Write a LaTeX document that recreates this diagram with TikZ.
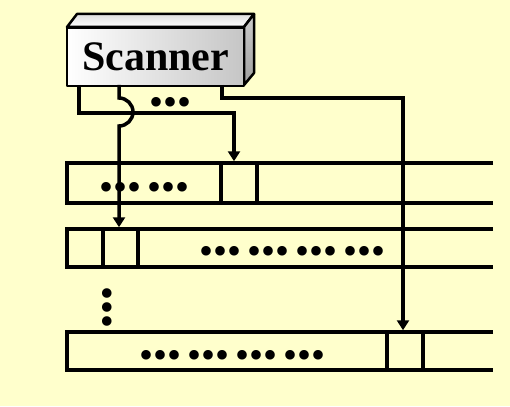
\documentclass[tikz,border=0pt]{standalone}
\usepackage{fontspec}
\setmainfont{Liberation Serif}
\usetikzlibrary{arrows.meta}
\definecolor{bg}{HTML}{FFFFCC}
\newcommand{\trip}{•••}
\newcommand{\gp}{\hspace{6pt}}
\begin{document}
\begin{tikzpicture}[x=1pt,y=-1pt,
  wire/.style={line width=3.5pt},
  conn/.style={line width=3.5pt,-{Triangle[length=10pt,width=12pt]}},
  dotsty/.style={font=\fontsize{40}{13}\selectfont, inner sep=0pt, align=center},
  cellbox/.style={draw, line width=3.5pt, inner sep=0pt},
  face/.style={draw, line width=2.5pt, line join=round}]
\fill[bg] (0,0) rectangle (510,406);
\useasboundingbox (0,0) rectangle (510,406);
% scanner
\draw[face, top color=gray!25, bottom color=white] (67,27) -- (77,14) -- (254,14) -- (244,27) -- cycle;
\draw[face, top color=gray!40, bottom color=gray!75] (244,27) -- (254,14) -- (254,73) -- (244,85) -- cycle;
\node[face, left color=white, right color=gray!45, minimum width=177pt, minimum height=58pt, inner sep=0pt,
  font=\bfseries\fontsize{42}{42}\selectfont] (scanner) at (155.5,57) {Scanner};
% rows
\draw[wire] (493,163) -- (67,163) -- (67,203) -- (493,203);
\draw[wire] (493,229) -- (67,229) -- (67,267) -- (493,267);
\draw[wire] (493,332) -- (67,332) -- (67,370) -- (493,370);
\node[cellbox, minimum width=36pt, minimum height=40pt] (cell1) at (239,183) {};
\node[cellbox, minimum width=35pt, minimum height=38pt] (cell2) at (120.5,248) {};
\node[cellbox, minimum width=36pt, minimum height=38pt] (cell3) at (405,351) {};
% dots
\node[dotsty] (d0) at (170.5,106) {\trip};
\node[dotsty] (d1) at (144.5,191) {\trip\gp\trip};
\node[dotsty] (d2) at (292.5,255) {\trip\gp\trip\gp\trip\gp\trip};
\node[dotsty] (d3) at (233,359) {\trip\gp\trip\gp\trip\gp\trip};
\node[dotsty, rotate=90] (dv) at (111,307) {\trip};
% connectors
\coordinate (s1) at (79,85);
\coordinate (j1) at (234,113);
\coordinate (s2) at (119,85);
\coordinate (s3) at (222,85);
\coordinate (j3) at (403,98);
\draw[conn] (s1) |- (j1) -- (j1 |- cell1.north);
\draw[conn] (s2) -- (119,98) .. controls (126.7,98) and (133,104.3) .. (133,112)
  .. controls (133,119.7) and (126.7,126) .. (119,126) -- (s2 |- cell2.north);
\draw[conn] (s3) |- (j3) -- (j3 |- cell3.north);
\end{tikzpicture}
\end{document}
